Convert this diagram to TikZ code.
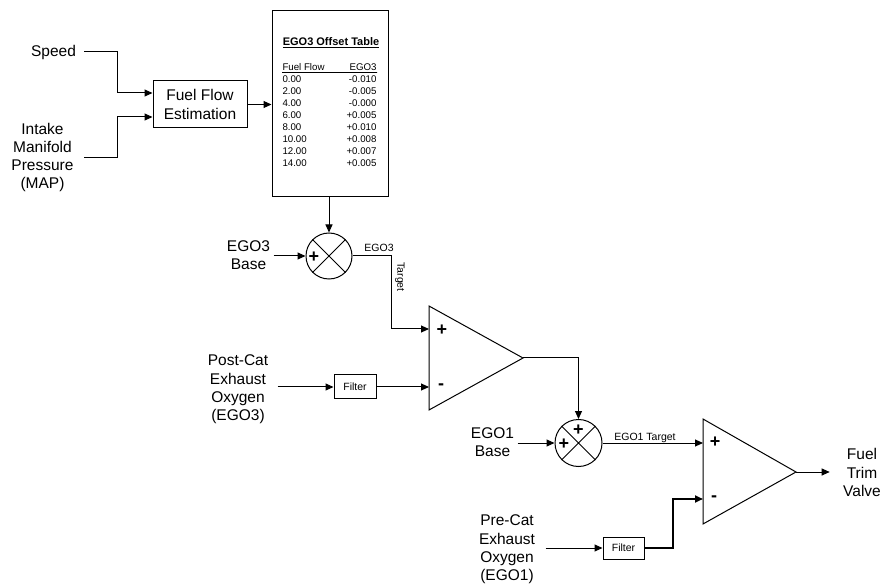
\documentclass[tikz,border=0pt]{standalone}
\usepackage{fontspec}
\setmainfont{Liberation Sans}
\usetikzlibrary{arrows.meta}
\begin{document}
\begin{tikzpicture}[x=1pt,y=-1pt,
  line width=1pt,
  >={Triangle[length=8pt,width=7pt]},
  big/.style={font=\fontsize{15.5}{18.3}\selectfont, align=center, inner sep=0},
  small/.style={font=\fontsize{10.5}{12}\selectfont, inner sep=0},
  tab/.style={font=\fontsize{9.7}{11}\selectfont, inner sep=0},
  sumnode/.style={draw, circle, minimum size=46pt, inner sep=0},
  sign/.style={font=\fontsize{18}{18}\selectfont\bfseries, inner sep=0}
]
\useasboundingbox[fill=white] (0,0) rectangle (884,585);

% inputs and fuel flow estimation
\node[big] (speed) at (53.5,52) {Speed};
\node[big] (intake) at (42.5,157.5) {Intake\\Manifold\\Pressure\\(MAP)};
\node[draw, big, minimum width=94pt, minimum height=47pt] (ffe) at (200,104.5) {Fuel Flow\\Estimation};
\coordinate (ffein1) at ([yshift=11.5pt]ffe.west);
\coordinate (ffein2) at ([yshift=-12.5pt]ffe.west);
\draw[->] ([xshift=8pt]speed.east) -| ([xshift=-35pt]ffein1) -- (ffein1);
\draw[->] ([xshift=10pt]intake.east) -| ([xshift=-35pt]ffein2) -- (ffein2);

% table
\node[draw, minimum width=116pt, minimum height=186pt, inner sep=0] (tbl) at (330,104) {};
\node[font=\fontsize{11}{13}\selectfont\bfseries, inner sep=0] (ttl) at (331,43) {\underline{EGO3 Offset Table}};
\node[tab, anchor=west] (hff) at (282,67) {Fuel Flow};
\node[tab, anchor=east] (hego) at (377,67) {EGO3};
\draw[line width=0.8pt] ([yshift=-1.5pt]hff.south west) -- ([yshift=-1.5pt]hego.south east);
\foreach \a/\b [count=\i] in {0.00/-0.010,2.00/-0.005,4.00/-0.000,6.00/+0.005,8.00/+0.010,10.00/+0.008,12.00/+0.007,14.00/+0.005}{
  \node[tab, anchor=west] (ra\i) at (282,67+12*\i) {\a};
  \node[tab, anchor=east] (rb\i) at (377,67+12*\i) {\b};
}
\draw[->] (ffe.east) -- (tbl.west |- ffe.east);

% summing junction 1
\node[sumnode] (s1) at (329,256) {};
\draw (s1.45) -- (s1.225) (s1.135) -- (s1.-45);
\node[sign] (s1p) at (314,257) {+};
\draw[->] (s1.north |- tbl.south) -- (s1.north);
\node[big] (ego3b) at (248.5,255.5) {EGO3\\Base};
\draw[->] ([xshift=3pt]ego3b.east |- s1.west) -- (s1.west);

% amplifier 1
\coordinate (a1tl) at (429,306);
\coordinate (a1bl) at (429,410);
\coordinate (a1tip) at (523,358);
\draw (a1tl) -- (a1tip) -- (a1bl) -- cycle;
\coordinate (a1p) at (429,329);
\coordinate (a1m) at (429,387);
\node[sign] (a1ps) at (442,330) {+};
\node[sign] (a1ms) at (441,387) {-};
\draw[->] (s1.east) -| ([xshift=-38pt]a1p) -- (a1p);
\node[small] (lego3) at (379,248) {EGO3};
\node[small, rotate=-90] (ltgt) at (400,277) {Target};

\node[big] (post) at (238,389.5) {Post-Cat\\Exhaust\\Oxygen\\(EGO3)};
\node[draw, small, minimum width=42pt, minimum height=24pt] (f1) at (355,387) {Filter};
\draw[->] ([xshift=9pt]post.east |- f1.west) -- (f1.west);
\draw[->] (f1.east) -- (a1m);

% summing junction 2
\node[sumnode, minimum size=47pt] (s2) at (578.5,443) {};
\draw (s2.45) -- (s2.225) (s2.135) -- (s2.-45);
\node[sign] (s2p1) at (564,444) {+};
\node[sign] (s2p2) at (578.5,430) {+};
\draw[->] (a1tip) -| (s2.north);
\node[big] (ego1b) at (492.5,442.5) {EGO1\\Base};
\draw[->] ([xshift=3pt]ego1b.east |- s2.west) -- (s2.west);

% amplifier 2
\coordinate (a2tl) at (703,419);
\coordinate (a2bl) at (703,524);
\coordinate (a2tip) at (796,472);
\draw (a2tl) -- (a2tip) -- (a2bl) -- cycle;
\coordinate (a2p) at (703,443);
\coordinate (a2m) at (703,499);
\node[sign] (a2ps) at (715,442) {+};
\node[sign] (a2ms) at (714,499) {-};
\draw[->] (s2.east) -- (a2p);
\node[small] (lego1) at (645,437.5) {EGO1 Target};

\node[big] (ftv) at (862,472.5) {Fuel\\Trim\\Valve};
\draw[->] (a2tip) -- ([xshift=-13pt]ftv.west |- a2tip);

\node[big] (pre) at (507,549.5) {Pre-Cat\\Exhaust\\Oxygen\\(EGO1)};
\node[draw, small, minimum width=41pt, minimum height=22pt] (f2) at (623.5,548) {Filter};
\draw[->] ([xshift=10pt]pre.east |- f2.west) -- (f2.west);
\draw[->, line width=2pt] (f2.east) -| ([xshift=-30pt]a2m) -- (a2m);
\end{tikzpicture}
\end{document}
